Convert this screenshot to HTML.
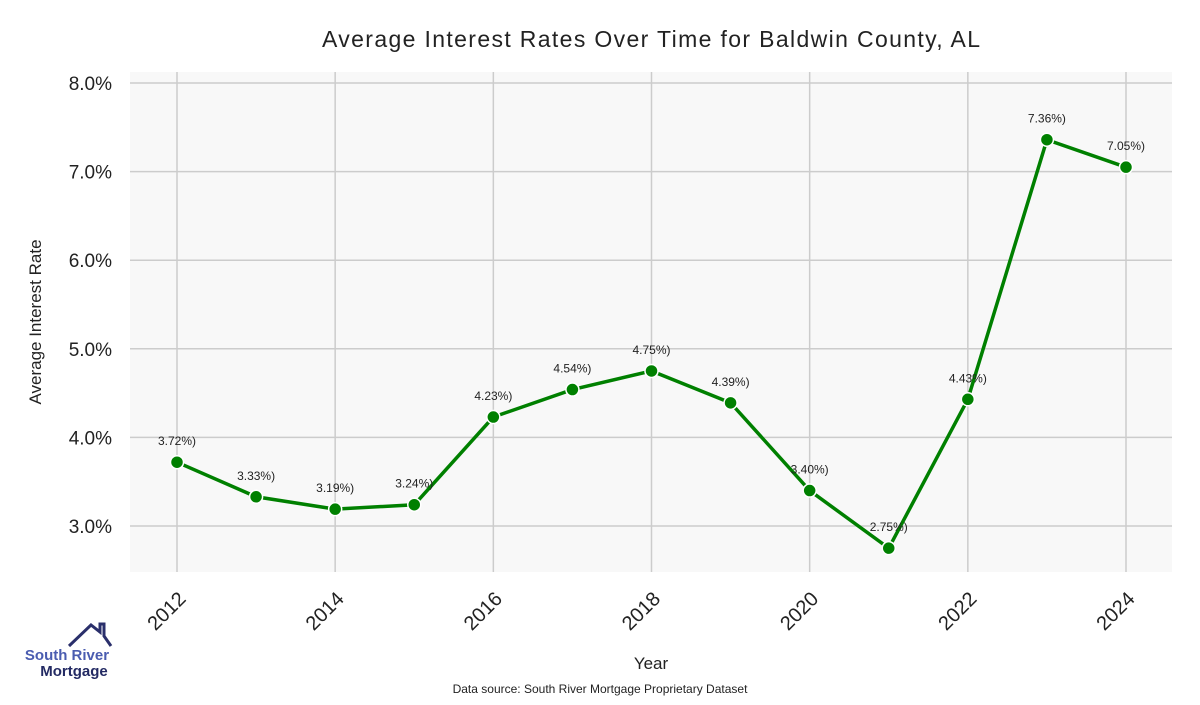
<!DOCTYPE html>
<html><head><meta charset="utf-8"><style>
body{margin:0;background:#fff;font-family:"Liberation Sans",sans-serif}
</style></head><body>
<svg width="1200" height="700" xmlns="http://www.w3.org/2000/svg">
<rect x="130" y="72" width="1042" height="500" fill="#f8f8f8"/>
<g id="grid"></g><g id="series"></g>
<text x="651" y="47" text-anchor="middle" font-size="23" fill="#222" textLength="658">Average Interest Rates Over Time for Baldwin County, AL</text>
<text transform="translate(41,322) rotate(-90)" text-anchor="middle" font-size="17" fill="#222">Average Interest Rate</text>
<text x="651" y="669" text-anchor="middle" font-size="17" fill="#222">Year</text>
<text x="600" y="693" text-anchor="middle" font-size="12" fill="#222">Data source: South River Mortgage Proprietary Dataset</text>
<g>
<polyline points="69,646 91,625 100,632 100,624 104,624 104,636 111,646" fill="none" stroke="#2a2f6b" stroke-width="3"/>
<text x="67" y="660" text-anchor="middle" font-size="15" font-weight="bold" fill="#4a5cb0">South River</text>
<text x="74" y="676" text-anchor="middle" font-size="15" font-weight="bold" fill="#232a63">Mortgage</text>
</g>
</svg>
<script>
const years=[2012,2013,2014,2015,2016,2017,2018,2019,2020,2021,2022,2023,2024];
const rates=[3.72,3.33,3.19,3.24,4.23,4.54,4.75,4.39,3.40,2.75,4.43,7.36,7.05];
const yTicks=[3,4,5,6,7,8];
const xTicks=[2012,2014,2016,2018,2020,2022,2024];
const NS="http://www.w3.org/2000/svg";
const xs=y=>177+(y-2012)*(1126-177)/12;
const ys=v=>526-(v-3)*88.6;
const grid=document.getElementById('grid'),ser=document.getElementById('series');
function mk(tag,attrs,parent,text){const e=document.createElementNS(NS,tag);for(const k in attrs)e.setAttribute(k,attrs[k]);if(text!==undefined)e.textContent=text;parent.appendChild(e);return e;}
yTicks.forEach(t=>{
 const l=mk('line',{x1:130,x2:1172,y1:ys(t),y2:ys(t),stroke:'#cccccc','stroke-width':1.5},grid);
 
 
 const tx=mk('text',{x:112,y:ys(t)+7,'text-anchor':'end','font-size':19,fill:'#222'},grid,t.toFixed(1)+'%');
 
 
});
xTicks.forEach(t=>{
 const l=mk('line',{x1:xs(t),x2:xs(t),y1:72,y2:572,stroke:'#cccccc','stroke-width':1.5},grid);
 
 
 const tx=mk('text',{transform:`translate(${xs(t)+10},${600}) rotate(-45)`,'text-anchor':'end','font-size':20,fill:'#222'},grid,String(t));
 
 
});
const line=mk('polyline',{points:years.map((y,i)=>xs(y)+','+ys(rates[i])).join(' '),fill:'none',stroke:'#008000','stroke-width':3.5},ser);


years.forEach((y,i)=>{
 const c=mk('circle',{cx:xs(y),cy:ys(rates[i]),r:6.5,fill:'#008000',stroke:'#fff','stroke-width':1.5},ser);
 
 
 const t=mk('text',{x:xs(y),y:ys(rates[i])-17,'text-anchor':'middle','font-size':12,fill:'#222'},ser,rates[i].toFixed(2)+'%)');
 
 
});
</script>
</body></html>
